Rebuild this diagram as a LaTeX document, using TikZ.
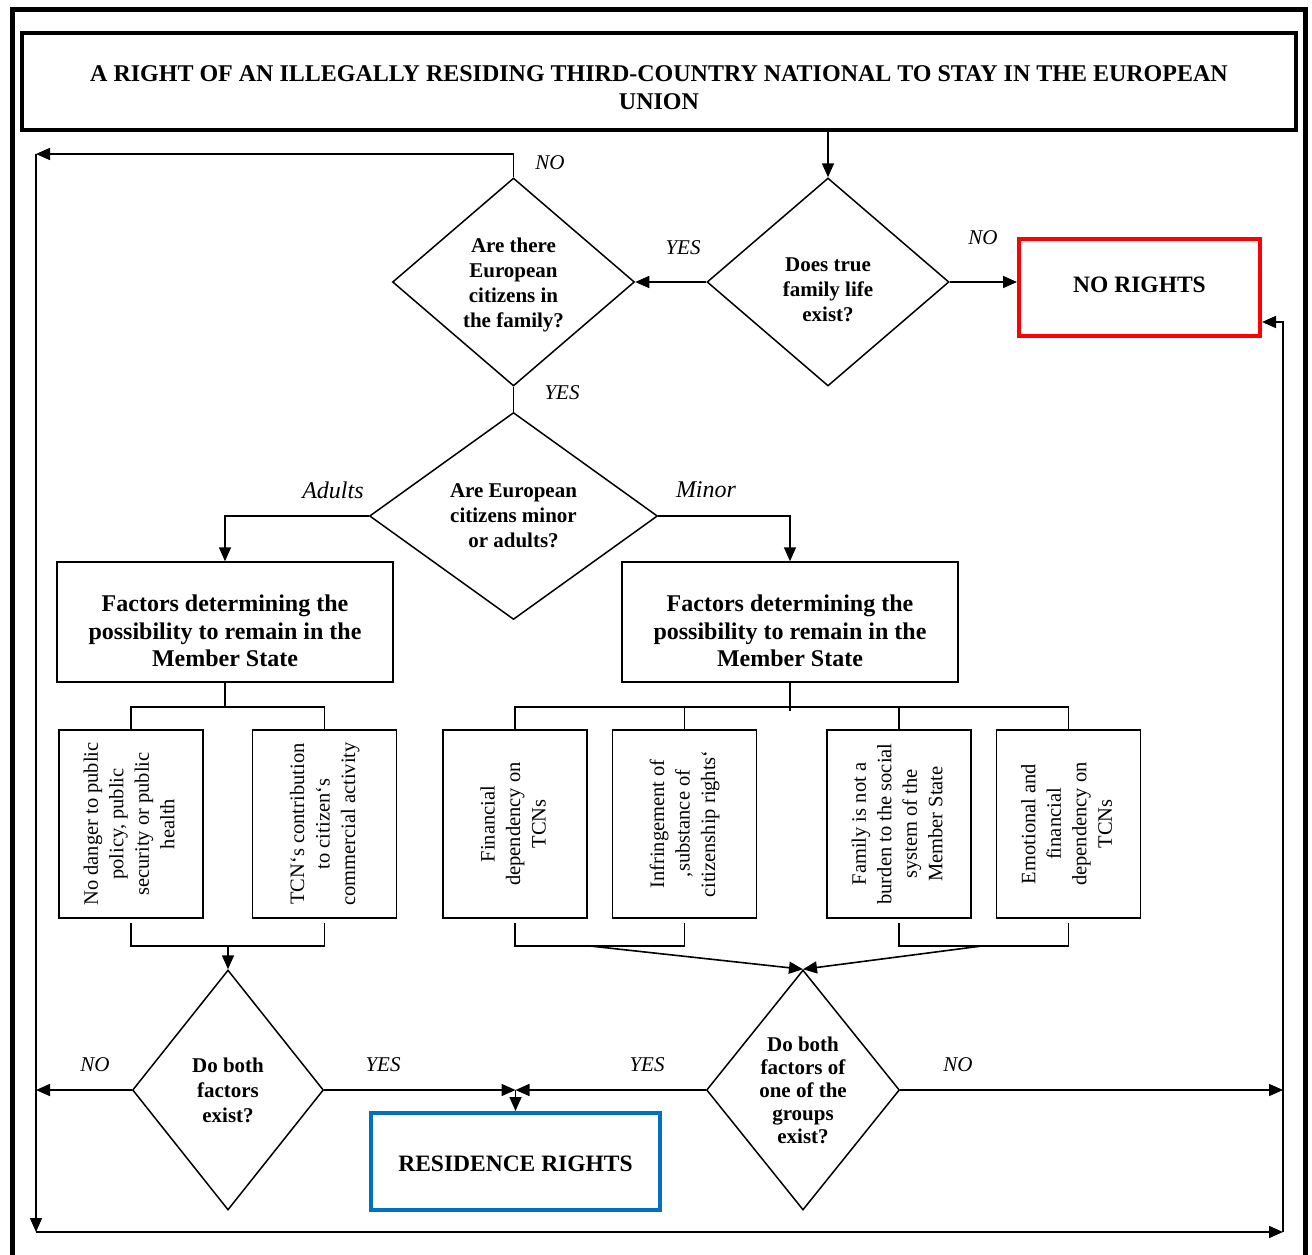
\documentclass[tikz,border=0pt]{standalone}
\usepackage{fontspec}
\setmainfont{Liberation Serif}
\usepackage{tikz}
\usetikzlibrary{shapes.geometric}
\usetikzlibrary{arrows.meta}
\usetikzlibrary {positioning}
\tikzset{question node/.style={diamond,draw,line width=1.5pt,inner sep=0pt,align=center,font=\fontsize{21}{25}\selectfont\bfseries}}
\tikzset{group node/.style={rectangle,draw,line width=1.5pt,minimum width=336pt,minimum height=120pt,align=center,font=\fontsize{24}{27.5}\selectfont\bfseries}}
\tikzset{factor node/.style={rectangle,draw,line width=1.5pt,minimum width=144pt,minimum height=188pt,inner sep=0pt,font=\fontsize{20.5}{25.5}\selectfont}}
\tikzset{result node/.style={rectangle,draw,line width=4pt,minimum width=241pt,minimum height=97pt,font=\fontsize{23.5}{28}\selectfont\bfseries}}
\tikzset{answer/.style={font=\fontsize{21}{25}\selectfont\itshape,inner sep=0pt}}
\definecolor{norights}{RGB}{255,0,0}
\definecolor{residence}{RGB}{0,112,192}
\newcommand{\vtext}[1]{\rotatebox{90}{\begin{tabular}{@{}c@{}}#1\end{tabular}}}
\newcommand{\lowered}[1]{\rule{0pt}{#1}}

\begin{document}
\begin{tikzpicture}[x=1pt,y=-1pt,>={Triangle[length=14pt,width=12pt]},line width=1.6pt]
    \useasboundingbox (0,0) rectangle (1312,1255);
    \draw[line width=5pt] (12,1262) -- (12,10) -- (1305,10) -- (1305,1262);

    	\node[rectangle,draw,line width=3.5pt,minimum width=1274pt,minimum height=97pt,align=center,font=\fontsize{24}{28}\selectfont\bfseries] (t) at (659,81.5) {\lowered{29pt}A RIGHT OF AN ILLEGALLY RESIDING THIRD-COUNTRY NATIONAL TO STAY IN THE EUROPEAN\\UNION};
    	\node[question node,aspect=1.16,minimum width=242pt,minimum height=208pt] (q_{1}) at (828,282) {\lowered{30pt}Does true\\family life\\exist?};
    	\node[question node,aspect=1.16,minimum width=242pt,minimum height=208pt] (q_{2}) [left = 71pt of q_{1}] {\lowered{21pt}Are there\\European\\citizens in\\the family?};
    	\node[question node,aspect=1.39,minimum width=288pt,minimum height=207pt] (q_{3}) [below = 25pt of q_{2}] {Are European\\citizens minor\\or adults?};
    	\node[result node,draw=norights] (n) at (1139.5,287.5) {NO RIGHTS\lowered{0pt}\rule[-6pt]{0pt}{6pt}};
    	\node[group node] (g_{1}) at (225,622) {\lowered{35pt}Factors determining the\\possibility to remain in the\\Member State};
    	\node[group node] (g_{2}) at (790,622) {\lowered{35pt}Factors determining the\\possibility to remain in the\\Member State};
    	\node[factor node] (f_{1}) at (131,824) {\vtext{No danger to public\\policy, public\\security or public\\health}};
    	\node[factor node] (f_{2}) [right = 48pt of f_{1}] {\vtext{TCN‘s contribution\\to citizen‘s\\commercial activity}};
    	\node[factor node] (f_{3}) at (515,824) {\vtext{Financial\\dependency on\\TCNs}};
    	\node[factor node] (f_{4}) [right = 24pt of f_{3}] {\vtext{Infringement of\\‚substance of\\citizenship rights‘}};
    	\node[factor node] (f_{5}) at (899,824) {\vtext{Family is not a\\burden to the social\\system of the\\Member State}};
    	\node[factor node] (f_{6}) [right = 24pt of f_{5}] {\vtext{Emotional and\\financial\\dependency on\\TCNs}};
    	\node[question node,aspect=0.8,minimum width=191pt,minimum height=240pt] (q_{4}) at (228,1090) {Do both\\factors\\exist?};
    	\node[question node,aspect=0.8,minimum width=193pt,minimum height=240pt,font=\fontsize{21}{23}\selectfont\bfseries] (q_{5}) at (803,1090) {Do both\\factors of\\one of the\\groups\\exist?};
    	\node[result node,draw=residence,minimum width=289pt] (r) at (515.5,1161.5) {\lowered{21pt}RESIDENCE RIGHTS};

    	\coordinate (c_{1}) at (36,154);
    	\coordinate (c_{2}) at (36,1232);
    	\coordinate (c_{3}) at (1283,1232);

    	\draw[->] (q_{1}.north |- t.south) -- (q_{1}.north);
    	\draw[->] (q_{1}.west) -- (q_{2}.east);
    	\draw[->] (q_{1}.east) -- (q_{1}.east -| n.west);
    	\draw[->] (q_{2}.north) |- (c_{1});
    	\draw[->] (c_{1}) -- (c_{2});
    	\draw[->] (c_{2}) -- (c_{3});
    	\draw[->] (c_{3}) |- ([yshift=-34.5pt]n.east);
    	\draw (q_{2}) -- (q_{3});
    	\draw[->] (q_{3}.west) -| (g_{1}.north);
    	\draw[->] (q_{3}.east) -| (g_{2}.north);

    	\draw (g_{1}.south) -- ++(0,24) coordinate (b_{1});
    	\draw (f_{1}.north) |- (b_{1}) -| (f_{2}.north);
    	\draw (g_{2}.south) -- ++(0,28);
    	\path (g_{2}.south) ++(0,24) coordinate (b_{2});
    	\draw (f_{3}.north) |- (b_{2}) -| (f_{6}.north);
    	\draw (f_{4}.north) -- (f_{4}.north |- b_{2});
    	\draw (f_{5}.north) -- (f_{5}.north |- b_{2});

    	\draw ([yshift=-4pt]f_{1}.south) -- ++(0,23) coordinate (u_{1}) -| ([yshift=-4pt]f_{2}.south);
    	\draw ([yshift=-4pt]f_{3}.south) -- ++(0,23) coordinate (u_{2}) -| ([yshift=-4pt]f_{4}.south);
    	\draw ([yshift=-4pt]f_{5}.south) -- ++(0,23) coordinate (u_{3}) -| ([yshift=-4pt]f_{6}.south);
    	\draw[->] (u_{1} -| q_{4}.north) -- (q_{4}.north);
    	\draw[->] (u_{2} -| f_{3}.east) -- (q_{5}.north);
    	\draw[->] (u_{3} -| f_{6}.west) ++(-12,0) -- (q_{5}.north);

    	\draw[->] (q_{4}.west) -- (q_{4}.west -| c_{1});
    	\draw[->] (q_{4}.east) -- (q_{4}.east -| r.north);
    	\draw[->] (q_{5}.west) -- (q_{5}.west -| r.north);
    	\draw[->] (q_{4}.east -| r.north) -- (r.north);
    	\draw[->] (q_{5}.east) -- (q_{5}.east -| c_{3});

    	\node[answer] (l_{1}) at (550,163) {NO};
    	\node[answer] (l_{2}) at (683,248) {YES};
    	\node[answer] (l_{3}) at (983,238) {NO};
    	\node[answer] (l_{4}) at (562,393) {YES};
    	\node[answer,font=\fontsize{24}{28}\selectfont\itshape] (l_{5}) at (333,490) {Adults};
    	\node[answer,font=\fontsize{24}{28}\selectfont\itshape] (l_{6}) at (706,490) {Minor};
    	\node[answer] (l_{7}) at (95,1065) {NO};
    	\node[answer] (l_{8}) at (383,1065) {YES};
    	\node[answer] (l_{9}) at (647,1065) {YES};
    	\node[answer] (l_{10}) at (958,1065) {NO};
    \end{tikzpicture}
\end{document}
